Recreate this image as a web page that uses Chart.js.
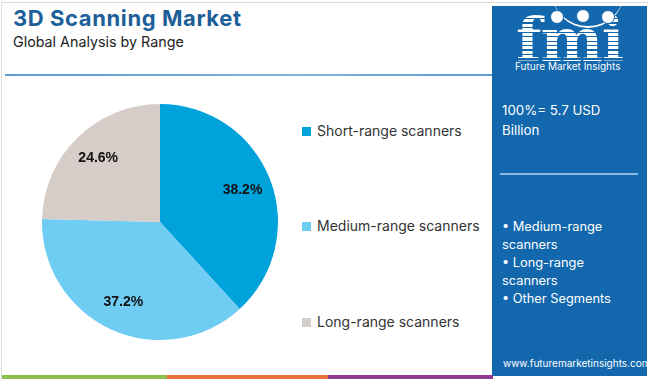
<!DOCTYPE html>
<html>
<head>
<meta charset="utf-8">
<script src="https://cdn.jsdelivr.net/npm/chart.js@4.4.1/dist/chart.umd.min.js"></script>
<style>
	body { margin: 0; width: 650px; height: 379px; overflow: hidden; background: #fff; font-family: Inter, "Open Sans", sans-serif; }
	#frame { position: absolute; left: 1px; top: 2px; width: 647px; height: 376px; border-left: 1px solid #dcdcdc; border-top: 1px solid #dcdcdc; }
	#title { position: absolute; left: 13px; top: 5px; font-size: 22px; font-weight: 700; color: #1d5f98; letter-spacing: 0.6px; }
	#subtitle { position: absolute; left: 13px; top: 33px; font-size: 14.3px; color: #222; }
	#topline { position: absolute; left: 5px; top: 74px; width: 487px; height: 2px; background: linear-gradient(to right, #5b9bd5, #7fb3e0 60%, #5b9bd5); }
	#chart-box { position: absolute; left: 42px; top: 104px; width: 236px; height: 236px; }
	#legend { position: absolute; left: 302px; top: 0; }
	.item { position: absolute; white-space: nowrap; font-size: 14px; color: #333; }
	.item span.sw { display: inline-block; width: 9px; height: 9px; margin-right: 6px; vertical-align: 0px; }
	#panel { position: absolute; left: 492px; top: 6px; width: 155px; height: 370px; background: #1267ad; color: #fff; }
	#logo { position: absolute; left: 0; top: 0; width: 155px; height: 70px; }
	#fmi { position: absolute; left: 24px; top: 0px; font-family: "DejaVu Serif", serif; font-weight: 700; font-size: 59px; letter-spacing: -1px; line-height: normal;
		background: repeating-linear-gradient(to bottom, #fff 0px, #fff 3px, #1267ad 3px, #1267ad 4.5px); -webkit-background-clip: text; background-clip: text; color: transparent; }
	#fmi-sub { position: absolute; left: 23px; top: 54px; font-size: 10px; color: #fff; }
	.dot { position: absolute; width: 12px; height: 12px; border-radius: 50%; background: #fff; border: 1px solid #1267ad; }
	#arc { position: absolute; left: 60px; top: -14px; width: 72px; height: 34px; border-bottom: 2px solid #fff; border-radius: 0 0 40px 40px; }
	#total { position: absolute; left: 10px; top: 94px; font-size: 13.3px; line-height: 20px; }
	#pline { position: absolute; left: 8px; top: 167px; width: 138px; height: 2px; background: #8ab8e0; }
	#others { position: absolute; left: 10px; top: 212px; font-size: 12.8px; line-height: 18px; }
	#url { position: absolute; left: 11px; top: 351px; font-size: 10px; }
	.strip { position: absolute; top: 375px; height: 4px; }
</style>
</head>
<body>
<div id="frame"></div>
<div id="title">3D Scanning Market</div>
<div id="subtitle">Global Analysis by Range</div>
<div id="topline"></div>
<div id="chart-box"><canvas id="pie"></canvas></div>
<div id="legend"></div>
<div id="panel">
	<div id="logo">
		<div id="fmi">fmi</div>
		<div id="arc"></div>
		<div class="dot" style="left:58px;top:4px"></div>
		<div class="dot" style="left:84px;top:3px"></div>
		<div class="dot" style="left:109px;top:4px"></div>
		<div id="fmi-sub">Future Market Insights</div>
	</div>
	<div id="total">100%= 5.7 USD<br>Billion</div>
	<div id="pline"></div>
	<div id="others"></div>
	<div id="url">www.futuremarketinsights.com</div>
</div>
<div class="strip" style="left:2px;width:165px;background:#8cc04b"></div>
<div class="strip" style="left:167px;width:161px;background:#e8703a"></div>
<div class="strip" style="left:328px;width:165px;background:#8e3a8e"></div>
<script>
// data
var categories = ['Short-range scanners', 'Medium-range scanners', 'Long-range scanners'];
var shares = [38.2, 37.2, 24.6];
var colors = ['#00a2dc', '#6fcdf3', '#d6cdc8'];
var otherSegments = ['Medium-range scanners', 'Long-range scanners', 'Other Segments'];
var legendY = [122, 217, 313];

// legend
var legend = document.getElementById('legend');
for (var i = 0; i < categories.length; i++) {
	var d = document.createElement('div');
	d.className = 'item';
	d.style.top = legendY[i] + 'px';
	d.innerHTML = '<span class="sw" style="background:' + colors[i] + '"></span>' + categories[i];
	legend.appendChild(d);
}
document.getElementById('others').innerHTML = otherSegments.map(function(s) {
	return '\u2022 ' + s.replace(' scanners', '<br>scanners');
}).join('<br>');

// percent labels inside slices
var sliceLabels = {
	id: 'sliceLabels',
	afterDatasetsDraw: function(chart) {
		var ctx = chart.ctx;
		var meta = chart.getDatasetMeta(0);
		ctx.save();
		ctx.font = 'bold 14px "Liberation Sans", Arial, sans-serif';
		ctx.fillStyle = '#111';
		ctx.textAlign = 'center';
		ctx.textBaseline = 'middle';
		meta.data.forEach(function(arc, i) {
			var mid = (arc.startAngle + arc.endAngle) / 2;
			var r = arc.outerRadius * 0.75;
			ctx.fillText(shares[i].toFixed(1) + '%', arc.x + Math.cos(mid) * r, arc.y + Math.sin(mid) * r);
		});
		ctx.restore();
	}
};

new Chart(document.getElementById('pie'), {
	type: 'pie',
	data: {
		labels: categories,
		datasets: [{ data: shares, backgroundColor: colors, borderWidth: 0 }]
	},
	options: {
		responsive: true,
		maintainAspectRatio: false,
		animation: false,
		layout: { padding: 0 },
		plugins: { legend: { display: false }, tooltip: { enabled: false } }
	},
	plugins: [sliceLabels]
});
</script>
</body>
</html>
